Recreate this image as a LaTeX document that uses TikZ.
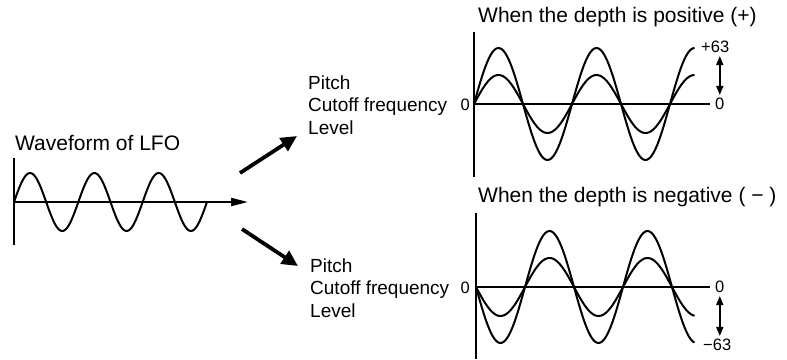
\documentclass[tikz,border=0pt]{standalone}
\usepackage{fontspec}
\setmainfont{Liberation Sans}
\usetikzlibrary{arrows.meta, positioning}

\begin{document}
\begin{tikzpicture}[x=1pt, y=-1pt,
  wave/.style={line width=2pt, line join=round},
  axis/.style={line width=2pt},
  bigarrow/.style={line width=3.8pt, -{Triangle[length=16pt,width=15pt]}},
  title/.style={font=\fontsize{21}{25}\selectfont, inner sep=0pt},
  lbl/.style={font=\fontsize{19}{22.5}\selectfont, align=left, inner sep=0pt},
  num/.style={font=\fontsize{16.5}{18}\selectfont, inner sep=0pt},
  span/.style={line width=1.5pt, shorten <=3pt, shorten >=3pt,
    {Triangle[length=9pt,width=7pt]}-{Triangle[length=9pt,width=7pt]}}]

  \useasboundingbox (0,0) rectangle (787,359);

  % LFO waveform
  \node[title, anchor=base west] (lfo) at (15,150) {Waveform of LFO};
  \draw[axis] (14,158) -- (14,245);
  \draw[axis, -{Triangle[length=17pt,width=8pt]}] (14,202) -- (248,202);
  \draw[wave] plot[domain=14:207, samples=150] (\x, {202-29*sin((\x-14)/64.33*360)});

  % Arrows to destinations
  \coordinate (upFrom) at (240,173);
  \coordinate (upTo) at (297,136);
  \coordinate (downFrom) at (242,229);
  \coordinate (downTo) at (298,266);
  \draw[bigarrow] (upFrom) -- (upTo);
  \draw[bigarrow] (downFrom) -- (downTo);

  % Destination labels
  \node[lbl, anchor=west] (destA) at (308,105) {Pitch\\Cutoff frequency\\Level};
  \node[lbl, anchor=west] (destB) at (310,288) {Pitch\\Cutoff frequency\\Level};

  % Positive depth
  \node[title, anchor=west] (posTitle) at (478,17) {When the depth is positive (+)};
  \draw[axis] (474,32) -- (474,177);
  \draw[axis] (474,104) -- (710,104);
  \draw[wave] plot[domain=474:694.5, samples=150] (\x, {104-56*sin((\x-474)/98*360)});
  \draw[wave] plot[domain=474:694.5, samples=150] (\x, {104-29*sin((\x-474)/98*360)});
  \node[num, anchor=east] (zeroA) at (470,105) {0};
  \node[num, anchor=west] (zeroAR) at (715,104) {0};
  \node[num, anchor=west] (plusA) at (701,47) {+63};
  \draw[span] (zeroAR.north |- plusA.south) -- (zeroAR.north);

  % Negative depth
  \node[title, anchor=west] (negTitle) at (478,197) {When the depth is negative ( − )};
  \draw[axis] (476,213) -- (476,359);
  \draw[axis] (476,287) -- (710,287);
  \draw[wave] plot[domain=476:694.5, samples=150] (\x, {287+56*sin((\x-476)/98*360)});
  \draw[wave] plot[domain=476:694.5, samples=150] (\x, {287+29*sin((\x-476)/98*360)});
  \node[num, anchor=east] (zeroB) at (470,288) {0};
  \node[num, anchor=west] (zeroBR) at (715,287) {0};
  \node[num, anchor=west] (minusB) at (703,345) {−63};
  \draw[span] (zeroBR.south) -- (zeroBR.south |- minusB.north);
\end{tikzpicture}
\end{document}
